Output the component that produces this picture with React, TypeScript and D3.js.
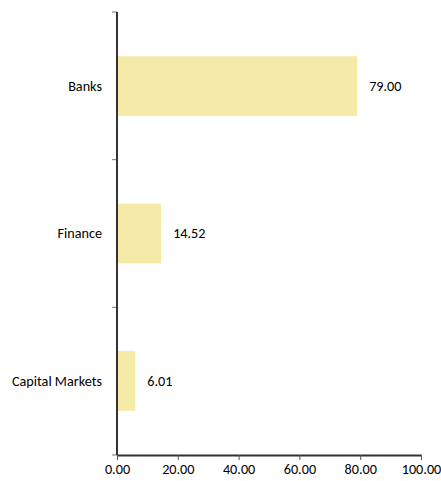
import React, { useRef, useEffect } from 'react';
import * as d3 from 'd3';

const categories = ['Banks', 'Finance', 'Capital Markets'];
const values = [79.0, 14.52, 6.01];
const xTicks = [0, 20, 40, 60, 80, 100];

const App = () => {
  const svgRef = useRef<SVGSVGElement>(null);

  useEffect(() => {
    const svg = d3.select(svgRef.current);
    svg.selectAll('*').remove();

    const margin = { top: 12, right: 20, bottom: 26, left: 117 };
    const innerW = 421 - margin.left;
    const innerH = 455 - margin.top;
    const font = 'Carlito, "Liberation Sans", Arial, sans-serif';
    const fs = 14.2;

    const g = svg.append('g').attr('transform', `translate(${margin.left},${margin.top})`);

    const x = d3.scaleLinear().domain([0, 100]).range([0, innerW]);
    const y = d3.scaleBand<string>().domain(categories).range([0, innerH]).paddingInner(0.595).paddingOuter(0.3);

    // bars
    g.selectAll('rect.bar')
      .data(categories)
      .enter()
      .append('rect')
      .attr('class', 'bar')
      .attr('x', 0)
      .attr('y', d => y(d)!)
      .attr('width', (d, i) => x(values[i]))
      .attr('height', y.bandwidth())
      .attr('fill', '#f5eaa8');

    // value labels
    g.selectAll('text.val')
      .data(categories)
      .enter()
      .append('text')
      .attr('class', 'val')
      .attr('x', (d, i) => x(values[i]) + 12)
      .attr('y', d => y(d)! + y.bandwidth() / 2)
      .attr('dy', '0.35em')
      .attr('font-family', font)
      .attr('font-size', fs)
      .attr('fill', '#000')
      .text((d, i) => values[i].toFixed(2));

    // category labels
    g.selectAll('text.cat')
      .data(categories)
      .enter()
      .append('text')
      .attr('class', 'cat')
      .attr('x', -15)
      .attr('y', d => y(d)! + y.bandwidth() / 2)
      .attr('dy', '0.35em')
      .attr('text-anchor', 'end')
      .attr('font-family', font)
      .attr('font-size', fs)
      .attr('fill', '#000')
      .text(d => d);

    // y axis ticks (band boundaries)
    const step = innerH / categories.length;
    const bounds = d3.range(categories.length + 1).map(i => i * step);
    g.selectAll('line.ytick')
      .data(bounds)
      .enter()
      .append('line')
      .attr('x1', -5)
      .attr('x2', 0)
      .attr('y1', d => d)
      .attr('y2', d => d)
      .attr('stroke', '#777')
      .attr('stroke-width', 1);

    // x axis
    const xAxis = d3.axisBottom(x)
      .tickValues(xTicks)
      .tickFormat(d => (d as number).toFixed(2))
      .tickSize(5)
      .tickSizeOuter(0);

    const xg = g.append('g').attr('transform', `translate(0,${innerH})`).call(xAxis);
    xg.select('.domain').attr('stroke', '#333').attr('stroke-width', 2);
    xg.selectAll('.tick line').attr('stroke', '#555');
    xg.selectAll('.tick text')
      .attr('font-family', font)
      .attr('font-size', fs)
      .attr('fill', '#000')
      .attr('y', 9);

    // y axis line
    g.append('line')
      .attr('x1', 0)
      .attr('x2', 0)
      .attr('y1', 0)
      .attr('y2', innerH)
      .attr('stroke', '#333')
      .attr('stroke-width', 2);
  }, []);

  return (
    <svg
      ref={svgRef}
      width={441}
      height={481}
      style={{ position: 'absolute', left: 0, top: 0, background: '#fff' }}
    ></svg>
  );
};

export default App;
